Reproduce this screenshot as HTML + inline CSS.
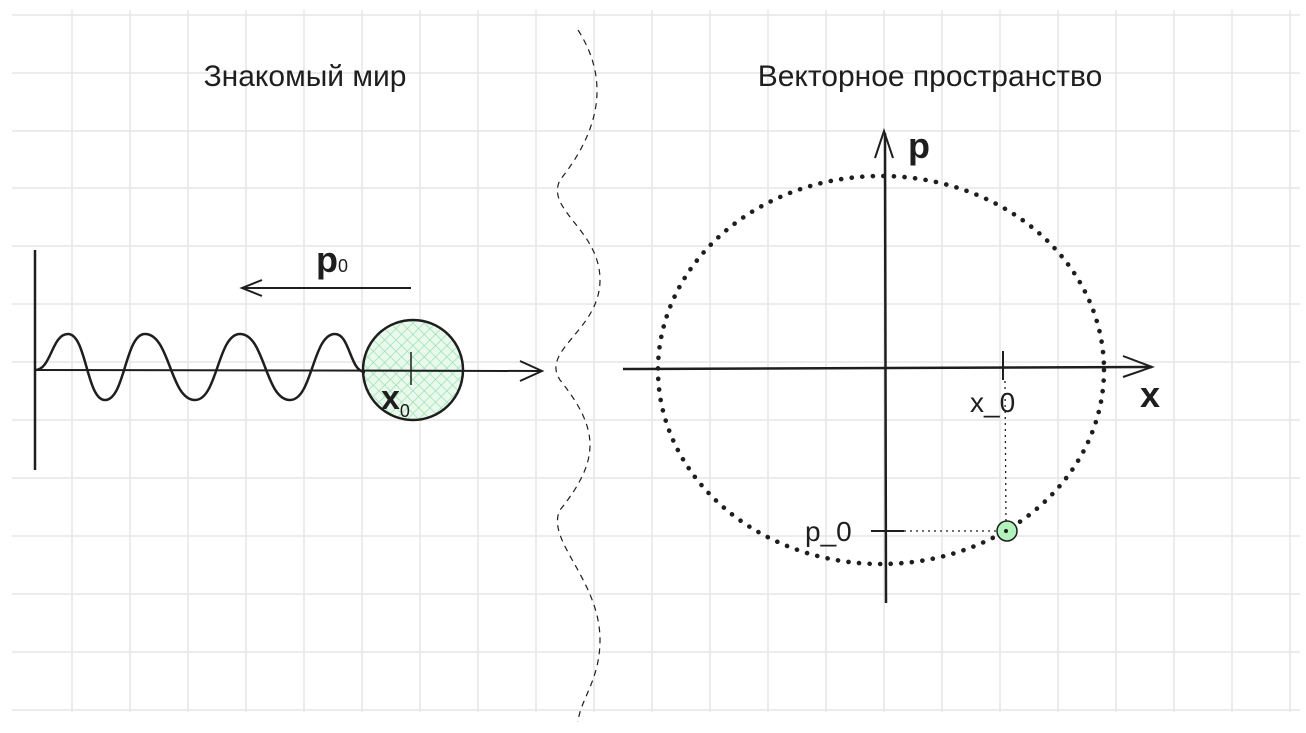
<!DOCTYPE html>
<html><head><meta charset="utf-8"><style>
html,body{margin:0;padding:0;background:#fff;}
svg{display:block;font-family:"Liberation Sans","DejaVu Sans",sans-serif;}
</style></head><body>
<svg id="c" width="1306" height="733" viewBox="0 0 1306 733">
<g id="grid" stroke="#e6e6e6" stroke-width="1.5"></g>
<text x="305" y="86" font-size="30" text-anchor="middle" fill="#1e1e1e">Знакомый мир</text>
<text x="930" y="86" font-size="30" text-anchor="middle" fill="#1e1e1e">Векторное пространство</text>
<path d="M578 30 C610 80 600 130 560 180 C545 210 600 230 600 280 C600 330 540 350 560 380 C600 430 600 460 560 510 C545 540 600 580 600 640 C600 680 580 700 578 722" fill="none" stroke="#1e1e1e" stroke-width="1.2" stroke-dasharray="6 5"/>
<defs><pattern id="hatch" width="8" height="8" patternUnits="userSpaceOnUse" patternTransform="rotate(45)"><rect width="8" height="8" fill="#eaf9ee"/><line x1="0" y1="0" x2="0" y2="8" stroke="#8fe0a4" stroke-width="1.3"/><line x1="0" y1="0" x2="8" y2="0" stroke="#8fe0a4" stroke-width="1.3"/></pattern></defs>
<circle cx="413" cy="370" r="50" fill="url(#hatch)" stroke="#1e1e1e" stroke-width="2.5"/>
<line x1="35" y1="250" x2="35" y2="470" stroke="#1e1e1e" stroke-width="2.5"/>
<line x1="35" y1="370" x2="540" y2="371" stroke="#1e1e1e" stroke-width="2"/>
<path d="M520 361 L542 371 L520 381" fill="none" stroke="#1e1e1e" stroke-width="2"/>
<path id="spring" fill="none" stroke="#1e1e1e" stroke-width="2.5"/>
<line x1="411" y1="352" x2="411" y2="385" stroke="#1e1e1e" stroke-width="1.5"/>
<text x="381" y="409" font-size="34" font-weight="bold" fill="#1e1e1e">x<tspan font-size="18" font-weight="normal" dy="8">0</tspan></text>
<text x="316" y="272" font-size="36" font-weight="bold" fill="#1e1e1e">p<tspan font-size="18" font-weight="normal" dy="0">0</tspan></text>
<line x1="243" y1="288" x2="411" y2="288" stroke="#1e1e1e" stroke-width="2"/>
<path d="M262 280 L242 288 L262 296" fill="none" stroke="#1e1e1e" stroke-width="2"/>
<line x1="623" y1="369" x2="1152" y2="367" stroke="#1e1e1e" stroke-width="2.5"/>
<path d="M1123 356 L1152 367 L1123 377" fill="none" stroke="#1e1e1e" stroke-width="2"/>
<line x1="885" y1="133" x2="886" y2="603" stroke="#1e1e1e" stroke-width="2.5"/>
<path d="M875 158 L884 131 L893 158" fill="none" stroke="#1e1e1e" stroke-width="2"/>
<text x="1140" y="407" font-size="36" font-weight="bold" fill="#1e1e1e">x</text>
<text x="908" y="158" font-size="36" font-weight="bold" fill="#1e1e1e">p</text>
<ellipse id="orbit" fill="none" stroke="#1e1e1e" stroke-width="4.6" stroke-dasharray="0.1 10.5" stroke-linecap="round"/>
<line x1="1003" y1="351" x2="1003" y2="380" stroke="#1e1e1e" stroke-width="2"/>
<line x1="871" y1="531" x2="904" y2="531" stroke="#1e1e1e" stroke-width="2"/>
<line x1="1005" y1="381" x2="1006" y2="525" stroke="#1e1e1e" stroke-width="1.3" stroke-dasharray="2 4"/>
<line x1="904" y1="531" x2="1000" y2="531" stroke="#1e1e1e" stroke-width="1.3" stroke-dasharray="2 4"/>
<circle cx="1007" cy="531" r="10" fill="#b2f2bb" stroke="#1e1e1e" stroke-width="1.5"/>
<circle cx="1006" cy="531" r="2" fill="#1e1e1e"/>
<text x="970" y="412" font-size="28" fill="#1e1e1e">x_0</text>
<text x="805" y="541" font-size="28" fill="#1e1e1e">p_0</text>
</svg>
<script>
const gridXs=[72,130,188,246,304,362,420,478,536,594,652,710,768,826,884,942,1000,1058,1116,1174,1232,1290];
const gridYs=[15,73,131,188,246,304,362,420,478,536,594,652,710];
const orbitCenter=[881,370];
const orbitRadii=[223,194];
const wavePeaks=[[35,370],[68,334],[105,400],[145,334],[195,400],[240,334],[290,400],[335,334],[365,372]];
const NS='http://www.w3.org/2000/svg';
const g=document.getElementById('grid');
gridXs.forEach(x=>{const l=document.createElementNS(NS,'line');
l.setAttribute('x1',x);l.setAttribute('x2',x);l.setAttribute('y1',10);l.setAttribute('y2',712);


g.appendChild(l);});
gridYs.forEach(y=>{const l=document.createElementNS(NS,'line');
l.setAttribute('x1',12);l.setAttribute('x2',1300);l.setAttribute('y1',y);l.setAttribute('y2',y);


g.appendChild(l);});
const o=document.getElementById('orbit');
o.setAttribute('cx',orbitCenter[0]);o.setAttribute('cy',orbitCenter[1]);
o.setAttribute('rx',orbitRadii[0]);o.setAttribute('ry',orbitRadii[1]);
let d='M'+wavePeaks[0][0]+' '+wavePeaks[0][1];
for(let i=1;i<wavePeaks.length;i++){const [x0,y0]=wavePeaks[i-1],[x1,y1]=wavePeaks[i];const m=(x0+x1)/2;
d+=` C${m} ${y0} ${m} ${y1} ${x1} ${y1}`;}
document.getElementById('spring').setAttribute('d',d);
</script>
</body></html>
